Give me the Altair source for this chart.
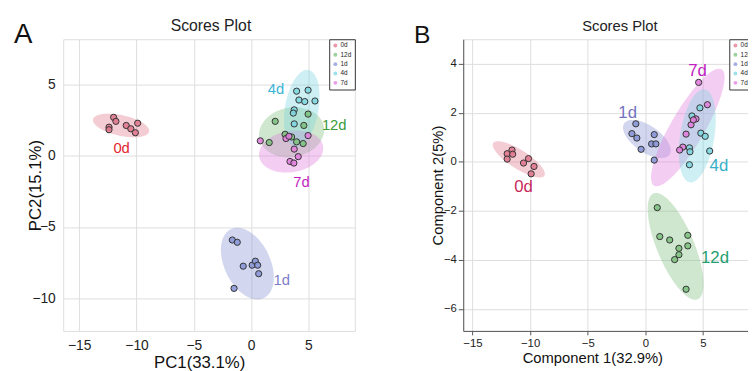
import numpy as np
import pandas as pd
import altair as alt

GROUPS = ["0d", "12d", "1d", "4d", "7d"]
POINT_COLORS = ["#e0788f", "#7fc07f", "#8896d6", "#7fd6e0", "#e07fdc"]

# ---------------- Panel A : PCA scores ----------------
PCA_0D_X = [-12.0, -11.8, -12.4, -12.4, -10.9, -10.5, -10.1, -9.9]
PCA_0D_Y = [2.71, 2.43, 2.02, 1.84, 2.14, 1.91, 1.63, 2.30]
PCA_1D_X = [-1.64, -1.21, -0.69, 0.09, 0.37, 0.57, 0.66, -1.49]
PCA_1D_Y = [-5.91, -6.07, -7.75, -7.68, -7.40, -7.68, -8.28, -9.31]
PCA_4D_X = [3.97, 4.97, 4.17, 4.68, 5.57, 3.76, 3.68, 3.76]
PCA_4D_Y = [4.55, 4.62, 3.93, 3.82, 3.86, 3.24, 3.01, 2.25]
PCA_12D_X = [2.10, 4.97, 4.60, 2.96, 1.58, 3.53, 4.54, 3.97]
PCA_12D_Y = [2.43, 2.94, 2.14, 1.52, 0.94, 1.33, 0.87, 0.99]
PCA_7D_X = [0.80, 3.04, 3.30, 4.97, 3.76, 4.11, 3.39, 3.73]
PCA_7D_Y = [1.06, 1.22, 1.38, 1.43, 0.48, -0.05, -0.39, -0.50]

# confidence ellipses: centre, half x-extent, half y-extent, tilt (correlation)
PCA_ELL_GROUP = ["0d", "1d", "12d", "7d", "4d"]
PCA_ELL_CX = [-11.35, -0.33, 3.53, 3.49, 4.42]
PCA_ELL_CY = [2.14, -7.57, 1.66, 0.31, 3.35]
PCA_ELL_SX = [2.45, 2.31, 2.84, 2.80, 1.55]
PCA_ELL_SY = [0.83, 2.52, 1.76, 1.48, 2.70]
PCA_ELL_R = [-0.45, -0.38, 0.10, 0.15, 0.30]

PCA_LAB_GROUP = ["0d", "1d", "4d", "12d", "7d"]
PCA_LAB_X = [-11.3, 2.67, 2.16, 7.25, 4.4]
PCA_LAB_Y = [0.55, -8.7, 4.69, 2.2, -1.86]
PCA_LAB_COLORS = ["#e3262d", "#7d7dc8", "#3cb4d8", "#3b9b3b", "#c21fbf"]

# ---------------- Panel B : PLS-DA scores ----------------
PLS_0D_X = [-11.57, -11.99, -11.51, -11.99, -10.14, -10.57, -9.66, -9.91]
PLS_0D_Y = [0.48, 0.33, 0.31, 0.11, 0.13, -0.05, -0.19, -0.49]
PLS_1D_X = [-0.83, -1.17, -0.74, -0.37, 0.77, 0.54, 0.91, 0.77]
PLS_1D_Y = [1.55, 1.15, 0.97, 0.51, 1.11, 0.73, 0.73, 0.07]
PLS_4D_X = [4.04, 4.73, 4.81, 5.19, 5.58, 3.82, 3.87, 3.82]
PLS_4D_Y = [1.87, 2.20, 1.17, 1.04, 0.44, 0.57, 0.41, -0.12]
PLS_12D_X = [1.03, 1.25, 2.11, 3.68, 2.91, 3.68, 2.91, 2.54, 3.53]
PLS_12D_Y = [-1.87, -3.05, -3.19, -3.00, -3.53, -3.43, -3.79, -3.99, -5.20]
PLS_7D_X = [4.62, 5.38, 4.39, 3.96, 3.53, 3.25, 2.97, 4.16]
PLS_7D_Y = [3.24, 2.33, 1.75, 1.51, 1.13, 0.60, 0.48, 1.71]

PLS_ELL_GROUP = ["0d", "1d", "12d", "7d", "4d"]
PLS_ELL_CX = [-10.98, 0.13, 2.62, 3.68, 4.50]
PLS_ELL_CY = [0.10, 0.93, -3.45, 1.40, 1.06]
PLS_ELL_SX = [2.26, 2.07, 2.42, 3.19, 1.60]
PLS_ELL_SY = [0.74, 0.78, 2.18, 2.40, 1.90]
PLS_ELL_R = [-0.80, -0.60, -0.70, 0.85, 0.35]

PLS_LAB_GROUP = ["0d", "1d", "7d", "4d", "12d"]
PLS_LAB_X = [-10.57, -1.54, 4.53, 6.38, 6.04]
PLS_LAB_Y = [-1.03, 2.0, 3.71, -0.16, -3.92]
PLS_LAB_COLORS = ["#c8285a", "#7373c0", "#c020c0", "#36b0c8", "#24a070"]

FONT = "Liberation Sans"


def points_df(pairs):
    rows = []
    for g, xs, ys in pairs:
        for x, y in zip(xs, ys):
            rows.append({"group": g, "x": x, "y": y})
    return pd.DataFrame(rows)


def ellipse_df(groups, cx, cy, sx, sy, r):
    rows = []
    t = np.linspace(np.pi, 0, 90)
    for g, a, b, w, h, rr in zip(groups, cx, cy, sx, sy, r):
        mid = b + rr * h * np.cos(t)
        half = h * np.sqrt(1 - rr ** 2) * np.sin(t)
        for xv, m, hv in zip(a + w * np.cos(t), mid, half):
            rows.append({"group": g, "x": xv, "y1": m + hv, "y2": m - hv})
    return pd.DataFrame(rows)


def panel(pts, ell, lab_groups, lab_x, lab_y, lab_colors, lab_size,
          xdom, ydom, xaxis, yaxis, letter, letter_size, title_x, title_size):
    xs = alt.Scale(domain=xdom, nice=False, zero=False)
    ys = alt.Scale(domain=ydom, nice=False, zero=False)
    legend = alt.Legend(title=None, orient="top-right", offset=0, labelFontSize=6.5,
                        symbolSize=16, symbolType="circle", strokeColor="#333",
                        fillColor="white", padding=3, rowPadding=2.5, labelOffset=2,
                        symbolStrokeWidth=0, symbolOpacity=0.75, labelFont=FONT,
                        labelColor="#222")
    color = alt.Color("group:N", scale=alt.Scale(domain=GROUPS, range=POINT_COLORS),
                      legend=legend)
    areas = alt.Chart(ell).mark_area(opacity=0.38).encode(
        x=alt.X("x:Q", scale=xs, axis=xaxis),
        y=alt.Y("y1:Q", scale=ys, axis=yaxis, stack=None),
        y2="y2:Q",
        color=color,
        detail="group:N",
    )
    dots = alt.Chart(pts).mark_circle(size=40, stroke="#333", strokeWidth=1,
                                      fillOpacity=0.9, strokeOpacity=1).encode(
        x=alt.X("x:Q", scale=xs),
        y=alt.Y("y:Q", scale=ys),
        color=color,
    )
    layers = [areas, dots]
    lab = pd.DataFrame({"group": lab_groups, "x": lab_x, "y": lab_y})
    for g, c in zip(lab_groups, lab_colors):
        layers.append(
            alt.Chart(lab).transform_filter(alt.datum.group == g)
            .mark_text(color=c, fontSize=lab_size, font=FONT)
            .encode(x=alt.X("x:Q", scale=xs), y=alt.Y("y:Q", scale=ys), text="group:N")
        )
    layers.append(
        alt.Chart(pd.DataFrame({"t": [letter]})).mark_text(
            fontSize=letter_size, font=FONT, align="left", baseline="middle", color="#111")
        .encode(x=alt.value(-50), y=alt.value(-4), text="t:N")
    )
    layers.append(
        alt.Chart(pd.DataFrame({"t": ["Scores Plot"]})).mark_text(
            fontSize=title_size, font=FONT, align="center", baseline="middle", color="#222")
        .encode(x=alt.value(title_x), y=alt.value(-13), text="t:N")
    )
    return alt.layer(*layers).properties(width=296, height=296)


pts_a = points_df([("0d", PCA_0D_X, PCA_0D_Y), ("12d", PCA_12D_X, PCA_12D_Y),
                   ("1d", PCA_1D_X, PCA_1D_Y), ("4d", PCA_4D_X, PCA_4D_Y),
                   ("7d", PCA_7D_X, PCA_7D_Y)])
ell_a = ellipse_df(PCA_ELL_GROUP, PCA_ELL_CX, PCA_ELL_CY, PCA_ELL_SX, PCA_ELL_SY, PCA_ELL_R)
pts_b = points_df([("0d", PLS_0D_X, PLS_0D_Y), ("12d", PLS_12D_X, PLS_12D_Y),
                   ("1d", PLS_1D_X, PLS_1D_Y), ("4d", PLS_4D_X, PLS_4D_Y),
                   ("7d", PLS_7D_X, PLS_7D_Y)])
ell_b = ellipse_df(PLS_ELL_GROUP, PLS_ELL_CX, PLS_ELL_CY, PLS_ELL_SX, PLS_ELL_SY, PLS_ELL_R)

axis_common = dict(grid=True, gridColor="#dddddd", labelFont=FONT, titleFont=FONT,
                   titleFontWeight="normal", labelColor="#222", titleColor="#111")

xaxis_a = alt.Axis(values=[-15, -10, -5, 0, 5], title="PC1(33.1%)", titleFontSize=17,
                   labelFontSize=14, ticks=False, domain=False, labelPadding=8,
                   titleX=138, titlePadding=2, **axis_common)
yaxis_a = alt.Axis(values=[-10, -5, 0, 5], title="PC2(15.1%)", titleFontSize=17,
                   labelFontSize=14, ticks=False, domain=False, labelPadding=8,
                   titleX=-28, titleY=148, titleBaseline="middle", **axis_common)
xaxis_b = alt.Axis(values=[-15, -10, -5, 0, 5], title="Component 1(32.9%)", titleFontSize=15,
                   labelFontSize=11.5, ticks=True, tickSize=4, tickColor="#555",
                   domain=True, domainColor="#555", labelPadding=3,
                   titleX=131, titlePadding=2, **axis_common)
yaxis_b = alt.Axis(values=[-6, -4, -2, 0, 2, 4], title="Component 2(5%)", titleFontSize=15,
                   labelFontSize=11.5, ticks=True, tickSize=5, tickColor="#555",
                   domain=True, domainColor="#555", labelPadding=2,
                   titleX=-26, titleY=148, titleBaseline="middle", **axis_common)

panel_a = panel(pts_a, ell_a, PCA_LAB_GROUP, PCA_LAB_X, PCA_LAB_Y, PCA_LAB_COLORS, 15,
                [-16.4, 9.05], [-12.3, 8.2], xaxis_a, yaxis_a, "A", 28, 150, 16)
panel_b = panel(pts_b, ell_b, PLS_LAB_GROUP, PLS_LAB_X, PLS_LAB_Y, PLS_LAB_COLORS, 17,
                [-15.8, 9.5], [-6.9, 5.0], xaxis_b, yaxis_b, "B", 25, 159, 15)

chart = (
    alt.hconcat(panel_a, panel_b, spacing=58)
    .resolve_scale(color="independent")
    .properties(padding={"left": 5, "top": 7, "right": -8, "bottom": 0}, background="white")
    .configure_view(stroke="#777", strokeWidth=1)
    .configure(font=FONT)
)

chart.save("out.html", embed_options={"renderer": "svg", "actions": False})
